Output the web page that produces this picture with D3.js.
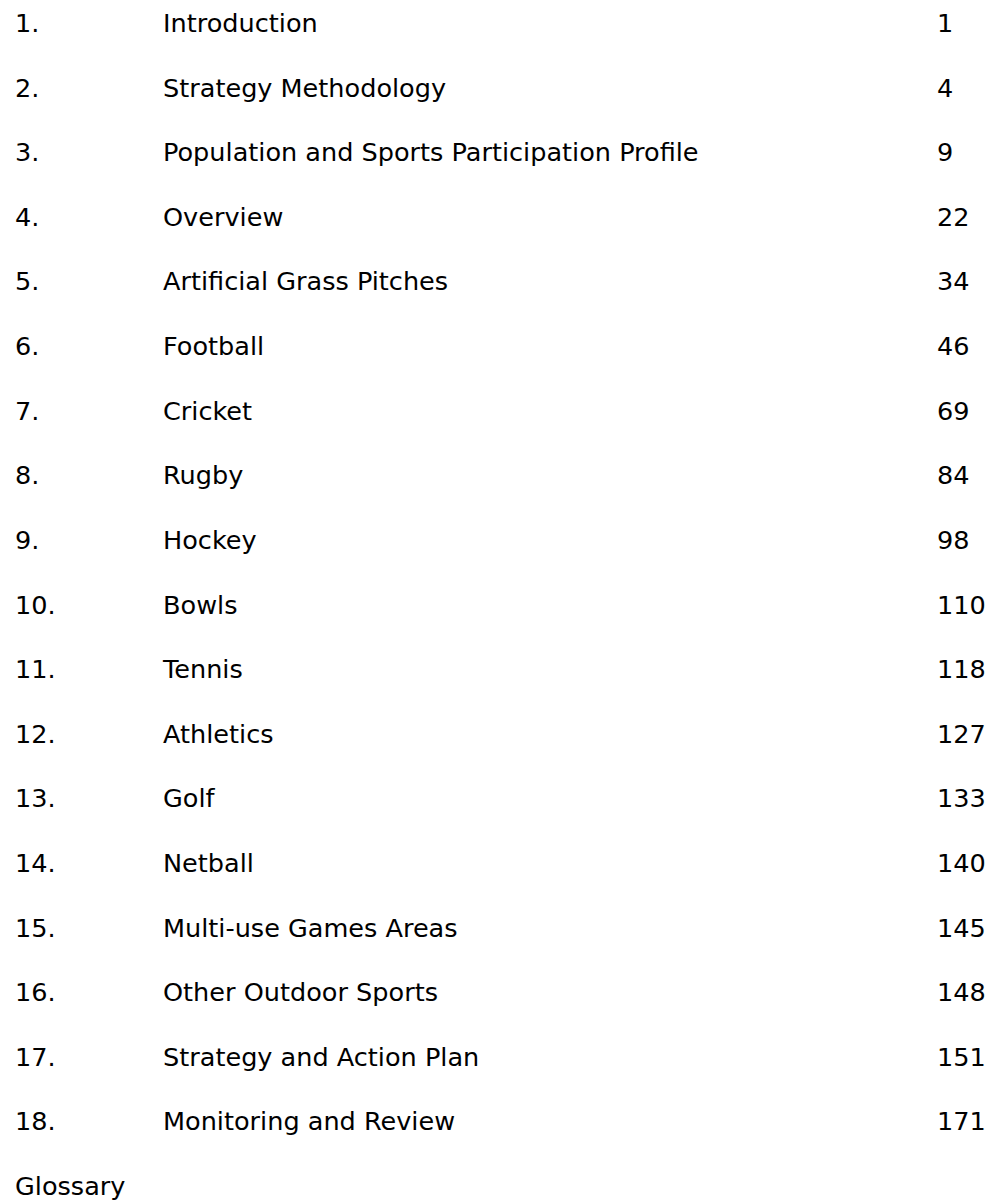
<!DOCTYPE html>
<html>
<head>
<meta charset="utf-8">
<script src="https://cdn.jsdelivr.net/npm/d3@7"></script>
<style>
  html, body { margin: 0; padding: 0; background: #fff; }
  svg { display: block; }
  text { font-family: "DejaVu Sans", sans-serif; fill: #000; }
</style>
</head>
<body>
<svg id="toc" width="987" height="1203"></svg>
<script>
// contents of the page: section number, title, start page
const sectionNumbers = ['1.', '2.', '3.', '4.', '5.', '6.', '7.', '8.', '9.', '10.',
  '11.', '12.', '13.', '14.', '15.', '16.', '17.', '18.'];
const sectionTitles = [
  'Introduction',
  'Strategy Methodology',
  'Population and Sports Participation Profile',
  'Overview',
  'Artificial Grass Pitches',
  'Football',
  'Cricket',
  'Rugby',
  'Hockey',
  'Bowls',
  'Tennis',
  'Athletics',
  'Golf',
  'Netball',
  'Multi-use Games Areas',
  'Other Outdoor Sports',
  'Strategy and Action Plan',
  'Monitoring and Review'
];
const sectionPages = ['1', '4', '9', '22', '34', '46', '69', '84', '98', '110',
  '118', '127', '133', '140', '145', '148', '151', '171'];
const trailingEntry = 'Glossary'; // unnumbered, no page

const rows = sectionTitles.map((t, i) => ({ num: sectionNumbers[i], title: t, page: sectionPages[i] }));
rows.push({ num: trailingEntry, title: '', page: '' });

const svg = d3.select('#toc');

// the original face is a wide geometric sans; size our fallback so the
// longest title spans the same ~536px it does on the page
const probe = svg.append('text').attr('font-size', 20).text(sectionTitles[2]);
const fontSize = Math.min(26, 20 * 536 / probe.node().getComputedTextLength());
probe.remove();

// baselines, one per row
const y = d3.scalePoint()
  .domain(d3.range(rows.length))
  .range([32, 1195]);

// the three columns
const x = d3.scaleOrdinal()
  .domain(['num', 'title', 'page'])
  .range([15, 163, 937]);

const row = svg.selectAll('g.row')
  .data(rows)
  .join('g')
  .attr('class', 'row')
  .attr('transform', (d, i) => `translate(0,${y(i)})`);

for (const key of x.domain()) {
  row.append('text')
    .attr('x', x(key))
    .attr('y', 0)
    .attr('font-size', fontSize)
    .text(d => d[key]);
}
</script>
</body>
</html>
